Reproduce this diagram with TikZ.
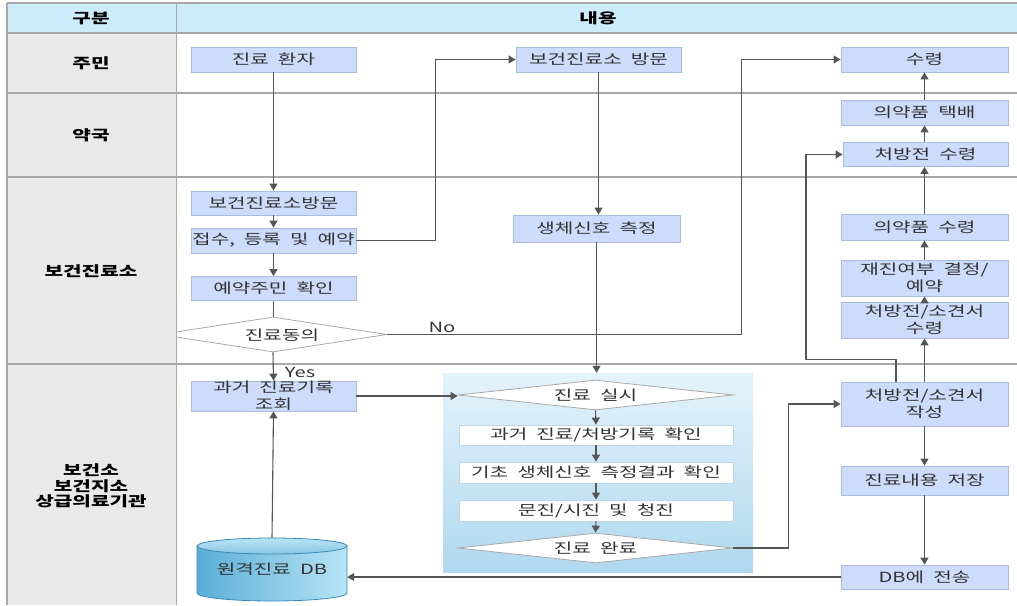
\documentclass[tikz,border=0pt]{standalone}
\usepackage{fontspec}
\setmainfont{Noto Sans CJK KR}[FakeStretch=1.44,WordSpace=2]
\usetikzlibrary{arrows.meta,shapes.geometric}
\definecolor{hdr}{HTML}{CCEBFB}
\definecolor{lcol}{HTML}{E9E9E9}
\definecolor{grid}{HTML}{A8A8A8}
\definecolor{boxfill}{HTML}{CCDCFA}
\definecolor{boxline}{HTML}{A7BDE0}
\definecolor{txt}{HTML}{333333}
\definecolor{lineC}{HTML}{555555}
\definecolor{pantop}{HTML}{E4F3FB}
\definecolor{panbot}{HTML}{B0D8EF}
\definecolor{wline}{HTML}{BCD5E8}
\definecolor{dbdark}{HTML}{5AAED6}
\definecolor{dblight}{HTML}{B8E4F6}
\definecolor{dbline}{HTML}{3B89B5}
\newcommand{\fs}{\fontsize{14}{16.5}\selectfont}
\begin{document}
\begin{tikzpicture}[x=1pt,y=-1pt,
  box/.style={draw=boxline, fill=boxfill, text=txt, inner sep=0pt, align=center, font=\fs, line width=0.8pt},
  wbox/.style={draw=wline, fill=white, text=txt, inner sep=0pt, align=center, font=\fs, line width=0.8pt, minimum width=274pt},
  dia/.style={diamond, draw=grid, fill=white, text=txt, inner sep=0pt, font=\fs, line width=0.8pt},
  lbl/.style={font=\fs\bfseries, text=black, align=center},
  gridline/.style={draw=grid, line width=1.1pt},
  conn/.style={draw=lineC, line width=1.1pt},
  arr/.style={conn, -{Triangle[length=7pt,width=8pt]}},
  tlabel/.style={font=\fs, text=txt, inner sep=0pt}
]
\useasboundingbox (0,0) rectangle (1017,605);
% table backgrounds
\fill[hdr] (7,3) rectangle (1017,33);
\fill[lcol] (7,33) rectangle (176,605);
\draw[gridline] (7,3) -- (1017,3);
\draw[gridline] (7,33) -- (1017,33);
\draw[gridline] (7,93) -- (1017,93);
\draw[gridline] (7,177) -- (1017,177);
\draw[gridline] (7,364) -- (1017,364);
\draw[gridline] (7,3) -- (7,605);
\draw[gridline] (176.5,3) -- (176.5,605);
% header and lane labels
\node[lbl] (h1) at (91,18) {구분};
\node[lbl] (h2) at (598,18) {내용};
\node[lbl] (l1) at (91,63) {주민};
\node[lbl] (l2) at (91,135) {약국};
\node[lbl] (l3) at (91,271) {보건진료소};
\node[lbl] (l4) at (91,486) {보건소\\[-1pt]보건지소\\[-1pt]상급의료기관};

% panel
\node[minimum width=310pt, minimum height=199pt, inner sep=0pt, top color=pantop, bottom color=panbot, draw=none] (panel) at (598,472.5) {};

% nodes
\node[box, minimum width=165pt, minimum height=25pt] (n1) at (273.5,59.5) {진료 환자};
\node[box, minimum width=165pt, minimum height=25pt] (n2) at (598.5,59.5) {보건진료소 방문};
\node[box, minimum width=167pt, minimum height=25pt] (n3) at (924.5,59.5) {수령};
\node[box, minimum width=167pt, minimum height=25pt] (n4) at (924.5,112.5) {의약품 택배};
\node[box, minimum width=165pt, minimum height=24pt] (n5) at (925.5,154.5) {처방전 수령};
\node[box, minimum width=165pt, minimum height=24pt] (n6) at (273.5,203) {보건진료소방문};
\node[box, minimum width=165pt, minimum height=25pt] (n7) at (273.5,240.5) {접수, 등록 및 예약};
\node[box, minimum width=165pt, minimum height=24pt] (n8) at (273.5,288.5) {예약주민 확인};
\begin{scope}
\clip (177.5,300) rectangle (500,362);
\node[dia, minimum width=228pt, minimum height=35pt, aspect=6.5] (d1) at (273,334.5) {};
\end{scope}
\node[tlabel] (d1t) at (282,335) {진료동의};
\node[box, minimum width=167pt, minimum height=27pt] (n9) at (596.5,228.5) {생체신호 측정};
\node[box, minimum width=167pt, minimum height=26pt] (n10) at (924.5,227) {의약품 수령};
\node[box, minimum width=167pt, minimum height=36pt] (n11) at (924.5,278) {재진여부 결정/\\예약};
\node[box, minimum width=167pt, minimum height=36pt] (n12) at (924.5,320) {처방전/소견서\\수령};
\node[box, minimum width=165pt, minimum height=30pt] (n13) at (273.5,396) {과거 진료기록\\조회};
\node[dia, minimum width=275pt, minimum height=30pt, aspect=9] (d2) at (595.5,395) {진료 실시};
\node[wbox, minimum height=20pt] (w1) at (596,435) {과거 진료/처방기록 확인};
\node[wbox, minimum height=21pt] (w2) at (596,472.5) {기초 생체신호 측정결과 확인};
\node[wbox, minimum height=21pt] (w3) at (596,510.5) {문진/시진 및 청진};
\node[dia, minimum width=275pt, minimum height=30pt, aspect=9] (d3) at (595.5,548) {진료 완료};
\node[box, minimum width=167pt, minimum height=44pt] (n14) at (924.5,404) {처방전/소견서\\작성};
\node[box, minimum width=167pt, minimum height=29pt] (n15) at (924.5,480.5) {진료내용 저장};
\node[box, minimum width=167pt, minimum height=24pt] (n16) at (924.5,577) {DB에 전송};

% database cylinder
\shade[left color=dbdark, right color=dblight, draw=dbline, line width=0.8pt]
  (197,546) -- (197,593) arc[start angle=180, end angle=360, x radius=75pt, y radius=8pt] -- (347,546) -- cycle;
\shade[top color=dblight, bottom color=dbdark!70, draw=dbline, line width=0.8pt]
  (272,546) ellipse[x radius=75pt, y radius=8pt];
\node[inner sep=0pt, minimum width=150pt, minimum height=63pt, font=\fs, text=txt] (db) at (272,569.5) {원격진료 DB};

% connectors
\draw[arr] (n1.south) -- (n6.north);
\draw[arr] (n6.south) -- (n7.north);
\draw[arr] (n7.south) -- (n8.north);
\draw[conn] (n8.south) -- (n8.south |- d1.north);
\draw[arr] (d1.south) -- (n13.north);
\node[tlabel] (yes) at (300,372) {Yes};
\draw[arr] (d1.east) -- ++(354,0) |- (n3.west);
\node[tlabel] (no) at (442,327) {No};
\draw[arr] (n7.east) -- ++(79,0) |- (n2.west);
\draw[arr] (n2.south) -- (n2.south |- n9.north);
\draw[arr] (n9.south) -- (n9.south |- panel.north);
\draw[arr] (n13.east) -- (n13.east -| d2.west);
\draw[arr] (d2.south) -- (w1.north);
\draw[arr] (w1.south) -- (w2.north);
\draw[arr] (w2.south) -- (w3.north);
\draw[arr] (w3.south) -- (d3.north);
\draw[arr] (d3.east) -- ++(55,0) |- (n14.west);
\draw[arr] (n14.south) -- (n15.north);
\draw[arr] (n15.south) -- (n16.north);
\draw[arr] (n16.west) -- (n16.west -| db.east);
\draw[arr] (db.north) -- (n13.south);
\draw[arr] (n14.north) -- (n12.south);
\draw[arr] (n12.north) -- (n11.south);
\draw[arr] (n11.north) -- (n10.south);
\draw[arr] (n10.north) -- (n10.north |- n5.south);
\draw[arr] (n5.north -| n4.south) -- (n4.south);
\draw[arr] (n4.north) -- (n3.south);
\draw[arr] ([xshift=-28.5pt]n14.north) -- ++(0,-22) -- ++(-90,0) |- (n5.west);
\end{tikzpicture}
\end{document}
